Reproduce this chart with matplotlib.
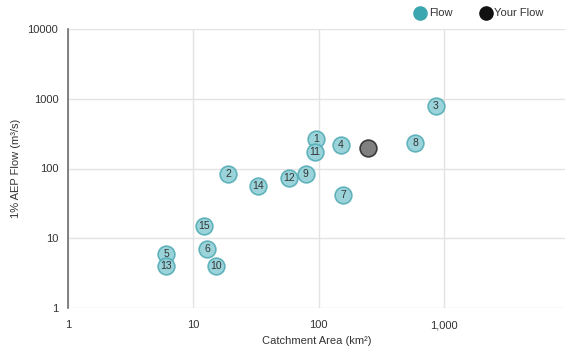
import matplotlib
matplotlib.use("Agg")
import matplotlib.pyplot as plt
from matplotlib.ticker import FixedLocator, FixedFormatter, NullLocator

plt.rcParams['font.family'] = ['Liberation Sans', 'DejaVu Sans']

# catchment area (km2) and 1% AEP flow (m3/s) for the gauged sites
site_ids = ['1', '2', '3', '4', '5', '6', '7', '8', '9', '10', '11', '12', '13', '14', '15']
area = [95, 18.9, 865, 151, 6.05, 12.9, 157, 588, 79, 15.2, 93, 58, 6.05, 32.8, 12.2]
flow = [266, 84, 791, 218, 5.95, 7.0, 42, 233, 84, 4.0, 173, 73, 4.0, 56, 15]

# the user's own catchment
your_area = [248]
your_flow = [198]

x_ticks = [1, 10, 100, 1000]
x_labels = ['1', '10', '100', '1,000']
y_ticks = [1, 10, 100, 1000, 10000]
y_labels = ['1', '10', '100', '1000', '10000']

fig = plt.figure(figsize=(5.68, 3.52), dpi=100)
ax = fig.add_axes([68 / 568, 44 / 352, 497 / 568, 279 / 352])
ax.set_xscale('log')
ax.set_yscale('log')
ax.set_xlim(1, 10 ** (497 / 125.3))
ax.set_ylim(1, 10000)

ax.xaxis.set_major_locator(FixedLocator(x_ticks))
ax.xaxis.set_major_formatter(FixedFormatter(x_labels))
ax.xaxis.set_minor_locator(NullLocator())
ax.yaxis.set_major_locator(FixedLocator(y_ticks))
ax.yaxis.set_major_formatter(FixedFormatter(y_labels))
ax.yaxis.set_minor_locator(NullLocator())
ax.tick_params(length=0, labelsize=8, colors='#333333', pad=7)
ax.tick_params(axis='x', pad=9)

ax.grid(True, color='#e3e3e3', linewidth=1)
ax.set_axisbelow(True)
for s in ['top', 'right', 'bottom']:
    ax.spines[s].set_visible(False)
ax.spines['left'].set_color('#6e6e6e')
ax.spines['left'].set_linewidth(1.2)

ax.scatter(area, flow, s=145, color='#8fd0d6', edgecolors='#56adb6',
           linewidths=1.2, alpha=0.9, zorder=3)
for sid, a, f in zip(site_ids, area, flow):
    ax.text(a, f, sid, ha='center', va='center', fontsize=7.5,
            color='#333333', zorder=4)

ax.scatter(your_area, your_flow, s=145, color='#808080', edgecolors='#3a3a3a',
           linewidths=1.2, zorder=3)

ax.set_xlabel('Catchment Area (km²)', fontsize=8, color='#333333', labelpad=4)
ax.set_ylabel('1% AEP Flow (m³/s)', fontsize=8, color='#333333', labelpad=5)

h1 = ax.scatter([], [], s=90, color='#3aa6b0')
h2 = ax.scatter([], [], s=90, color='#111111')
fig.legend([h1, h2], ['Flow', 'Your Flow'], loc='upper right',
           bbox_to_anchor=(0.975, 1.005), ncol=2, frameon=False, fontsize=8,
           handlelength=1.0, handletextpad=0.3, columnspacing=2.5,
           labelcolor='#333333')

fig.savefig('out.png', dpi=100, facecolor='white')
